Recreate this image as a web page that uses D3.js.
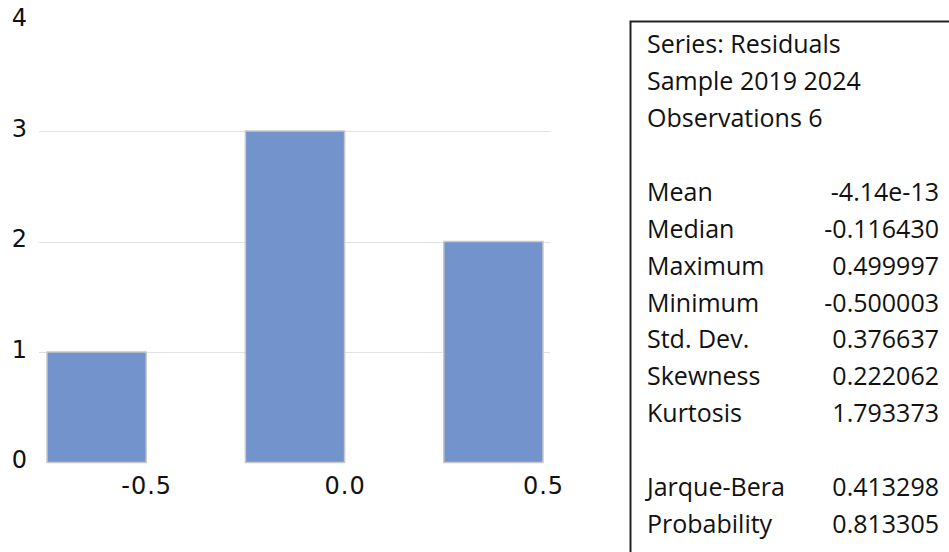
<!DOCTYPE html>
<html>
<head>
<meta charset="utf-8">
<script src="https://cdn.jsdelivr.net/npm/d3@7"></script>
<style>
  html, body { margin: 0; padding: 0; background: #fff; overflow: hidden; }
  svg { display: block; }
</style>
</head>
<body>
<svg id="chart" width="949" height="552"></svg>
<script>
// ---- data ----
const binEdges = [-0.75, -0.5, -0.25, 0.0, 0.25, 0.5];
const binCounts = [1, 0, 3, 0, 2];
const xTickValues = [-0.5, 0.0, 0.5];
const xTickLabels = ["-0.5", "0.0", "0.5"];
const yTickValues = [0, 1, 2, 3, 4];
const gridValues = [1, 2, 3];
const statLabels = ["Series: Residuals", "Sample 2019 2024", "Observations 6", "",
  "Mean", "Median", "Maximum", "Minimum", "Std. Dev.", "Skewness", "Kurtosis", "",
  "Jarque-Bera", "Probability"];
const statValues = ["", "", "", "",
  "-4.14e-13", "-0.116430", "0.499997", "-0.500003", "0.376637", "0.222062", "1.793373", "",
  "0.413298", "0.813305"];

// ---- layout ----
const svg = d3.select("#chart");
const statFont = "'Open Sans', 'Noto Sans', sans-serif";
const tickFont = "'DejaVu Sans', 'Open Sans', sans-serif";
const textColor = "#111";
const x = d3.scaleLinear().domain([-0.75, 0.5]).range([47, 543]);
const y = d3.scaleLinear().domain([0, 4]).range([462.5, 20.5]);

// gridlines
svg.append("g").selectAll("line").data(gridValues).join("line")
  .attr("x1", 39).attr("x2", 550)
  .attr("y1", d => Math.round(y(d)) + 0.5).attr("y2", d => Math.round(y(d)) + 0.5)
  .attr("stroke", "#e2e2e2").attr("stroke-width", 1.2);

// bars
const bins = binCounts.map((c, i) => ({ x0: binEdges[i], x1: binEdges[i + 1], c }))
  .filter(d => d.c > 0);
svg.append("g").selectAll("rect").data(bins).join("rect")
  .attr("x", d => x(d.x0))
  .attr("width", d => x(d.x1) - x(d.x0))
  .attr("y", d => y(d.c))
  .attr("height", d => y(0) - y(d.c))
  .attr("fill", "#7293cb")
  .attr("stroke", "#c8c8c8")
  .attr("stroke-width", 1.5);

// y axis labels
const yAxis = d3.axisLeft(y).tickValues(yTickValues).tickSize(0).tickPadding(0).tickFormat(d3.format("d"));
const yg = svg.append("g").attr("transform", "translate(27,-3)").call(yAxis);
yg.select(".domain").remove();
yg.selectAll("text").attr("font-family", tickFont).attr("font-size", 24).attr("fill", textColor)
  .attr("dy", "0.35em");

// x axis labels
const xAxis = d3.axisBottom(x).tickValues(xTickValues).tickSize(0).tickPadding(0)
  .tickFormat((d, i) => xTickLabels[i]);
const xg = svg.append("g").attr("transform", "translate(0,486)").call(xAxis);
xg.select(".domain").remove();
xg.selectAll("text").attr("font-family", tickFont).attr("font-size", 24).attr("fill", textColor)
  .attr("dy", "0.35em").attr("letter-spacing", 1);

// stats box
svg.append("rect").attr("x", 630.5).attr("y", 21.5).attr("width", 400).attr("height", 600)
  .attr("fill", "none").attr("stroke", "#222").attr("stroke-width", 2);
const rowY = i => 44.5 + i * 36.9;
svg.append("g").selectAll("text").data(statLabels).join("text")
  .attr("x", 647).attr("y", (d, i) => rowY(i)).attr("dy", "0.35em")
  .attr("font-family", statFont).attr("font-size", 25).attr("fill", textColor)
  .text(d => d);
svg.append("g").selectAll("text").data(statValues).join("text")
  .attr("x", 939).attr("y", (d, i) => rowY(i)).attr("dy", "0.35em")
  .attr("text-anchor", "end")
  .attr("font-family", statFont).attr("font-size", 25).attr("fill", textColor)
  .text(d => d);
</script>
</body>
</html>
